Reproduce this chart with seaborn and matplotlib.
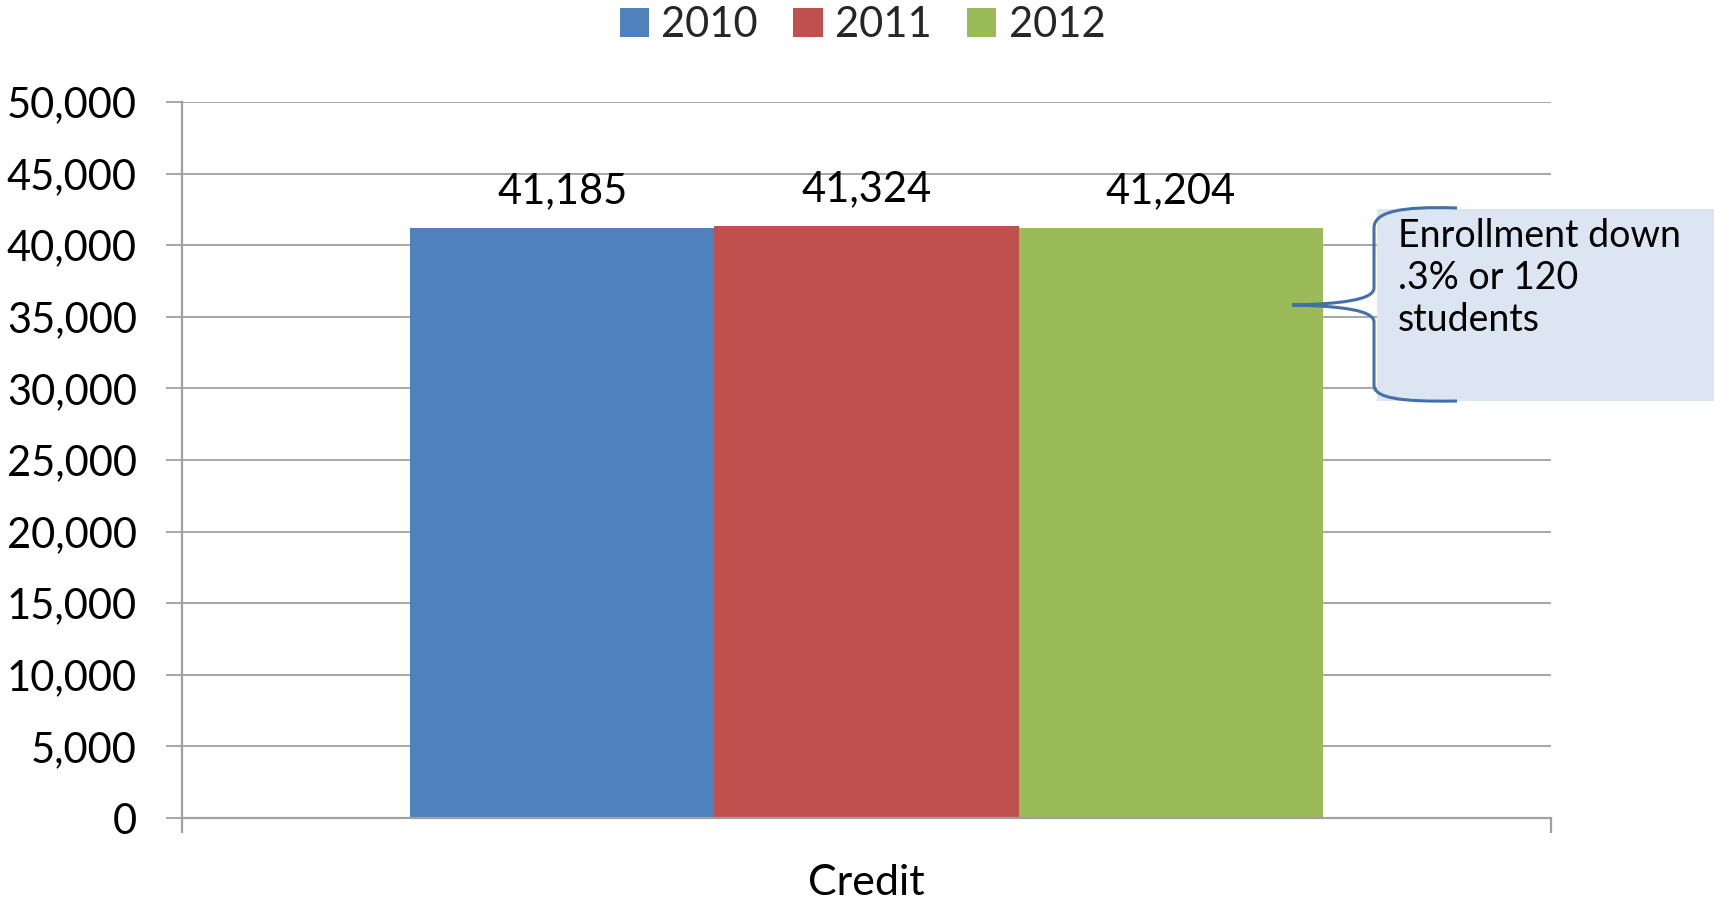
import matplotlib
matplotlib.use("Agg")
import matplotlib.pyplot as plt
from matplotlib.path import Path
from matplotlib.patches import PathPatch, Rectangle
from matplotlib.ticker import FuncFormatter, FixedLocator
import seaborn as sns
import pandas as pd

categories = ["Credit"]
years = ["2010", "2011", "2012"]
values = [41185, 41324, 41204]
colors = ["#4F81BD", "#C0504D", "#9BBB59"]
callout_text = "Enrollment down\n.3% or 120\nstudents"

sns.set_theme(style="white")
plt.rcParams["font.family"] = ["Lato", "DejaVu Sans"]

W, H = 1715, 900
fig = plt.figure(figsize=(W / 100, H / 100), dpi=100)
ax = fig.add_axes([182 / W, 1 - 818 / H, (1551 - 182) / W, (818 - 102) / H])

df = pd.DataFrame({"category": categories * len(years), "year": years, "value": values})
sns.barplot(data=df, x="category", y="value", hue="year", palette=colors,
            width=0.667, gap=0, saturation=1, linewidth=0, ax=ax, legend=True)

ax.set_xlim(-0.5, 0.5)
ax.set_ylim(0, 50000)
ax.yaxis.set_major_locator(FixedLocator(range(0, 50001, 5000)))
ax.yaxis.set_major_formatter(FuncFormatter(lambda v, p: f"{v:,.0f}"))
grid_c = "#A0A0A0"
ax.grid(axis="y", color=grid_c, linewidth=1.3)
ax.set_axisbelow(True)
for s in ["top", "right"]:
    ax.spines[s].set_visible(False)
for s in ["left", "bottom"]:
    ax.spines[s].set_color(grid_c)
    ax.spines[s].set_linewidth(1.6)
ax.tick_params(axis="y", which="major", direction="out", length=11.5, width=1.3,
               color=grid_c, pad=21, labelsize=30, labelcolor="black", left=True)
ax.tick_params(axis="x", which="major", length=0, pad=33, labelsize=31, labelcolor="black")
ax.set_xticks([-0.5, 0.5], minor=True)
ax.tick_params(axis="x", which="minor", direction="out", length=11, width=1.6,
               color=grid_c, bottom=True)
ax.set_xlabel("")
ax.set_ylabel("")

for cont in ax.containers:
    ax.bar_label(cont, labels=[f"{v:,.0f}" for v in cont.datavalues],
                 padding=13, fontsize=30, color="black")

handles, labels = ax.get_legend_handles_labels()
ax.get_legend().remove()
fig.legend(handles, labels, loc="upper center", bbox_to_anchor=(0.503, 1.035), ncol=3,
           frameon=False, fontsize=30, handlelength=0.7, handleheight=0.7,
           handletextpad=0.3, columnspacing=0.85)

def fp(x, y):
    return (x / W, 1 - y / H)

# callout box
x0, y0 = fp(1377, 401)
fig.patches.append(Rectangle((x0, y0), (W - 1377) / W, (401 - 209) / H,
                             transform=fig.transFigure, facecolor="#DCE6F2",
                             edgecolor="none", zorder=1))
# brace
pts = [(1457, 208), (1400, 206), (1374, 212), (1374, 228),
       (1374, 288), (1374, 300), (1340, 304), (1292, 305),
       (1340, 306), (1374, 310), (1374, 322),
       (1374, 385), (1374, 398), (1400, 402), (1457, 401)]
codes = [Path.MOVETO, Path.CURVE4, Path.CURVE4, Path.CURVE4,
         Path.LINETO, Path.CURVE4, Path.CURVE4, Path.CURVE4,
         Path.CURVE4, Path.CURVE4, Path.CURVE4,
         Path.LINETO, Path.CURVE4, Path.CURVE4, Path.CURVE4]
brace = Path([fp(x, y) for x, y in pts], codes)
fig.patches.append(PathPatch(brace, transform=fig.transFigure, facecolor="none",
                             edgecolor="#4470A8", linewidth=2.2, zorder=2))
fig.text(1398 / W, 1 - 218 / H, callout_text, fontsize=27, va="top", ha="left",
         linespacing=1.2, color="black")

fig.savefig("out.png", dpi=100)
